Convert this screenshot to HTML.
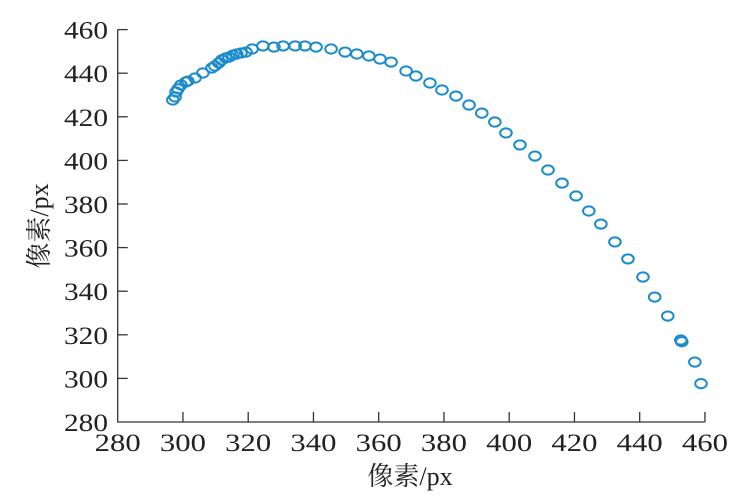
<!DOCTYPE html>
<html><head><meta charset="utf-8"><style>
html,body{margin:0;padding:0;background:#fff;}
svg{display:block;font-family:"Liberation Serif","Noto Serif CJK SC",serif;}
</style></head><body>
<svg id="chart" width="741" height="504" viewBox="0 0 741 504">
<g id="axes"></g>
<g id="pts"></g>
<text x="410" y="485" text-anchor="middle" font-size="26" fill="#222">像素/px</text>
<text transform="translate(48,226) rotate(-90)" text-anchor="middle" font-size="26" fill="#222">像素/px</text>
</svg>
<script>
const xTicks=[280,300,320,340,360,380,400,420,440,460];
const yTicks=[280,300,320,340,360,380,400,420,440,460];
const xVals=[296.9,297.6,297.9,298.5,299.4,300.9,301.5,303.7,306.1,308.9,309.8,311.0,311.9,313.1,314.1,315.3,316.5,317.8,319.3,321.2,324.5,327.9,330.7,334.4,337.4,340.8,345.4,349.7,353.3,357.0,360.4,363.8,368.4,371.4,375.7,379.4,383.7,387.7,391.6,395.6,399.0,403.3,407.9,411.9,416.2,420.5,424.4,428.1,432.4,436.4,441.0,444.6,448.6,452.6,452.9,456.9,458.8];
const yVals=[427.7,429.1,431.4,432.8,434.6,436.0,436.4,437.8,440.1,442.4,443.3,444.7,446.1,447.0,447.4,448.3,448.8,449.3,449.7,451.1,452.5,452.0,452.5,452.5,452.5,452.0,451.1,449.7,448.8,447.9,446.5,445.1,441.0,438.7,435.5,432.3,429.5,425.4,421.7,417.6,412.6,407.1,402.0,395.6,389.6,383.7,376.8,370.8,362.6,354.8,346.5,337.3,328.6,317.6,316.8,307.5,297.6];
const NS='http://www.w3.org/2000/svg';
const sx=v=>117.7+(v-280)*3.2625;
const sy=v=>422-(v-280)*2.18;
const axes=document.getElementById('axes');
function mk(tag,attrs,parent){const e=document.createElementNS(NS,tag);for(const k in attrs)e.setAttribute(k,attrs[k]);parent.appendChild(e);return e;}
let l=mk('path',{d:`M${sx(280)},${sy(460)} L${sx(280)},${sy(280)} L${sx(460)},${sy(280)}`,fill:'none',stroke:'#333','stroke-width':1.3},axes);


xTicks.forEach(t=>{
  if(t>280){const tk=mk('line',{x1:sx(t),x2:sx(t),y1:sy(280),y2:sy(280)-10,stroke:'#333','stroke-width':1.3},axes);
  
  }
  const tx=mk('text',{x:sx(t),y:451,'text-anchor':'middle','font-size':25,'textLength':46,'lengthAdjust':'spacingAndGlyphs',fill:'#222'},axes);
  tx.textContent=t;
  
  
});
yTicks.forEach(t=>{
  if(t>280){const tk=mk('line',{x1:sx(280),x2:sx(280)+10,y1:sy(t),y2:sy(t),stroke:'#333','stroke-width':1.3},axes);
  
  }
  const tx=mk('text',{x:108,y:sy(t)+9,'text-anchor':'end','font-size':25,'textLength':44,'lengthAdjust':'spacingAndGlyphs',fill:'#222'},axes);
  tx.textContent=t;
  
  
});
const pts=document.getElementById('pts');
xVals.forEach((v,i)=>{
  const c=mk('ellipse',{cx:sx(v),cy:sy(yVals[i]),rx:5.8,ry:4.6,fill:'none',stroke:'#1a8bcc','stroke-width':2},pts);
  
  
});
</script>
</body></html>
